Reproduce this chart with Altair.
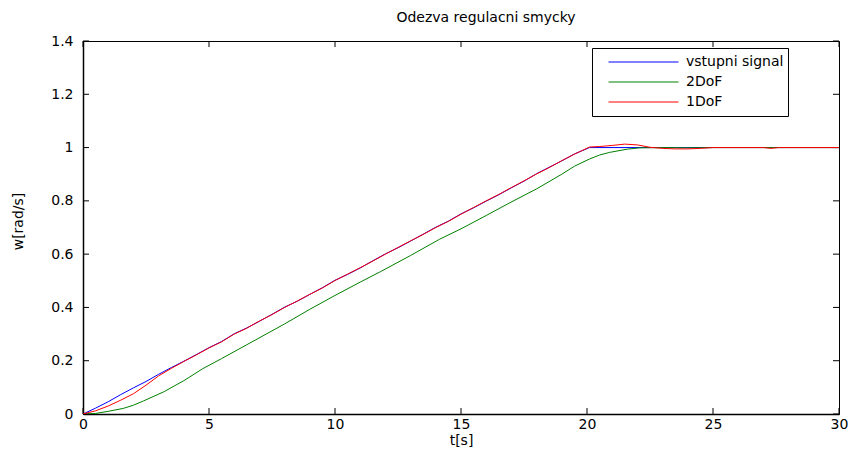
import altair as alt
import pandas as pd

# ---- data ----
series_names = ["vstupni signal", "2DoF", "1DoF"]
series_colors = ["#0000ff", "#008000", "#ff0000"]

t_in = [0, 0.5, 1, 1.5, 2, 2.5, 3, 3.5, 4, 4.5,
        5, 5.5, 6, 6.5, 7, 7.5, 8, 8.5, 9, 9.5,
        10, 10.5, 11, 11.5, 12, 12.5, 13, 13.5, 14, 14.5,
        15, 15.5, 16, 16.5, 17, 17.5, 18, 18.5, 19, 19.5,
        20.1, 30]
w_in = [0, 0.022, 0.046, 0.073, 0.098, 0.122, 0.149, 0.174, 0.198, 0.223,
        0.249, 0.272, 0.301, 0.323, 0.348, 0.374, 0.401, 0.423, 0.449, 0.474,
        0.502, 0.524, 0.548, 0.575, 0.601, 0.624, 0.649, 0.675, 0.701, 0.724,
        0.751, 0.774, 0.799, 0.823, 0.849, 0.874, 0.902, 0.926, 0.95, 0.976,
        1.0, 1.0]

t_2dof = [0, 0.5, 1, 1.6, 2, 2.4, 3.2, 4, 4.75, 5.5,
          6.5, 7.5, 8, 9, 10, 11, 11.8, 13, 14.15, 15,
          16, 16.9, 18, 19, 19.5, 20.1, 20.5, 20.9, 21.6, 22.1,
          23, 24, 25, 30]
w_2dof = [0, 0.002, 0.01, 0.021, 0.033, 0.049, 0.083, 0.125, 0.17, 0.208,
          0.26, 0.312, 0.338, 0.393, 0.445, 0.495, 0.534, 0.595, 0.656, 0.695,
          0.745, 0.791, 0.845, 0.9, 0.93, 0.957, 0.972, 0.982, 0.994, 0.999,
          1.0, 0.999, 1.0, 1.0]

t_1dof = [0, 0.5, 1, 1.5, 2, 2.5, 3, 3.5, 4, 4.5,
          5, 5.5, 6, 6.5, 7, 7.5, 8, 8.5, 9, 9.5,
          10, 10.5, 11, 11.5, 12, 12.5, 13, 13.5, 14, 14.5,
          15, 15.5, 16, 16.5, 17, 17.5, 18, 18.5, 19, 19.5,
          20.1, 20.5, 21, 21.5, 22, 22.5, 23, 23.5, 24, 24.5,
          25, 27, 27.3, 27.6, 30]
w_1dof = [0, 0.012, 0.03, 0.052, 0.076, 0.108, 0.143, 0.171, 0.197, 0.222,
          0.248, 0.271, 0.3, 0.322, 0.349, 0.373, 0.4, 0.424, 0.449, 0.473,
          0.501, 0.525, 0.549, 0.574, 0.6, 0.625, 0.65, 0.674, 0.7, 0.723,
          0.75, 0.775, 0.8, 0.824, 0.85, 0.875, 0.901, 0.925, 0.951, 0.975,
          1.002, 1.004, 1.008, 1.013, 1.01, 1.001, 0.997, 0.995, 0.995, 0.997,
          1.0, 1.0, 0.997, 1.0, 1.0]

x_ticks = [0, 5, 10, 15, 20, 25, 30]
y_ticks = [0, 0.2, 0.4, 0.6, 0.8, 1, 1.2, 1.4]

title_text = "Odezva regulacni smycky"
x_title = "t[s]"
y_title = "w[rad/s]"

# ---- build tables ----
frames = []
for name, ts, ws in zip(series_names, [t_in, t_2dof, t_1dof], [w_in, w_2dof, w_1dof]):
    frames.append(pd.DataFrame({"t": ts, "w": ws, "series": name}))

FONT = "DejaVu Sans"
FS = 14
W, H = 756, 373

xscale = alt.Scale(domain=[0, 30], nice=False, zero=False)
yscale = alt.Scale(domain=[0, 1.4], nice=False, zero=False)

x_axis = alt.Axis(values=x_ticks, ticks=False, grid=False, domainColor="black",
                  domainWidth=1.5, labelFont=FONT, labelFontSize=FS, labelColor="black",
                  labelPadding=3, labelFlush=False, labelOverlap=False,
                  titleFont=FONT, titleFontSize=FS, titleFontWeight="normal",
                  titleColor="black", titleY=26, titleBaseline="middle")
y_axis = alt.Axis(values=y_ticks, ticks=False, grid=False, domainColor="black",
                  domainWidth=1.5, format="~g", labelFont=FONT, labelFontSize=FS,
                  labelColor="black", labelPadding=10, labelFlush=False,
                  labelOverlap=False, titleFont=FONT, titleFontSize=FS,
                  titleFontWeight="normal", titleColor="black", titleX=-65,
                  titleY=180, titleBaseline="middle", titleAngle=270)

def xenc(field="t"):
    return alt.X(f"{field}:Q", scale=xscale, axis=x_axis, title=x_title)

def yenc(field="w"):
    return alt.Y(f"{field}:Q", scale=yscale, axis=y_axis, title=y_title)

color = alt.Color("series:N",
                  scale=alt.Scale(domain=series_names, range=series_colors),
                  legend=alt.Legend(title=None, orient="none", legendX=509, legendY=7,
                                    fillColor="white", strokeColor="black", padding=4,
                                    symbolType="stroke", symbolSize=4900,
                                    symbolStrokeWidth=1, clipHeight=20, symbolOffset=12,
                                    labelOffset=7, labelFont=FONT, labelFontSize=FS,
                                    labelColor="black", rowPadding=0, labelLimit=300))

line_layers = [
    alt.Chart(f).mark_line(strokeWidth=1, clip=True).encode(
        x=xenc(), y=yenc(), color=color)
    for f in frames
]

xt = pd.DataFrame({"t": x_ticks})
yt = pd.DataFrame({"w": y_ticks})
tick_bottom = alt.Chart(xt).mark_rule(color="black", strokeWidth=1).encode(
    x=xenc(), y=alt.value(H), y2=alt.value(H - 6))
tick_top = alt.Chart(xt).mark_rule(color="black", strokeWidth=1).encode(
    x=xenc(), y=alt.value(0), y2=alt.value(6))
tick_left = alt.Chart(yt).mark_rule(color="black", strokeWidth=1).encode(
    y=yenc(), x=alt.value(0), x2=alt.value(6))
tick_right = alt.Chart(yt).mark_rule(color="black", strokeWidth=1).encode(
    y=yenc(), x=alt.value(W), x2=alt.value(W - 6))

chart = alt.layer(tick_bottom, tick_top, tick_left, tick_right, *line_layers).properties(
    width=W, height=H,
    title=alt.TitleParams(title_text, font=FONT, fontSize=FS, fontWeight="normal",
                          color="black", anchor="middle", offset=9, dx=25),
    autosize=alt.AutoSizeParams(type="none"),
    padding={"left": 83, "top": 41, "right": 14, "bottom": 36},
    background="white",
).configure_view(stroke="black", strokeWidth=1)

chart.save("out.html", embed_options={"renderer": "svg", "actions": False})
